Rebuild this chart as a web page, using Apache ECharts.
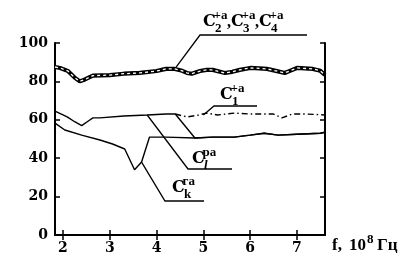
<!DOCTYPE html>
<html><head><meta charset="utf-8">
<script src="https://cdn.jsdelivr.net/npm/echarts@6/dist/echarts.min.js"></script>
<style>html,body{margin:0;padding:0;background:#fff}#c{width:416px;height:258px}</style>
</head><body><div id="c"></div>
<script>
const xTicks = [2, 3, 4, 5, 6, 7];
const yTicks = [0, 20, 40, 60, 80, 100];

// C2+a, C3+a, C4+a (thick hollow curve)
const c234X = [1.83, 1.94, 2.1, 2.25, 2.36, 2.47, 2.64, 3.0, 3.3, 3.64, 4.0, 4.2, 4.39, 4.55, 4.65, 4.75, 4.93, 5.07, 5.2, 5.46, 5.62, 5.78, 6.0, 6.2, 6.36, 6.55, 6.74, 6.85, 7.0, 7.34, 7.5, 7.6];
const c234Y = [87.5, 87, 85.5, 82, 80, 81, 83, 83.3, 84, 84.4, 85.4, 86.5, 86.5, 85.5, 84.4, 84, 85.4, 86, 86, 84.4, 85, 86, 87, 86.8, 86.5, 85.5, 84.4, 85.5, 87, 86.5, 85.5, 83.3];

// C1+a (dash-dot part)
const c1X = [4.4, 4.65, 4.9, 5.07, 5.3, 5.66, 6.0, 6.3, 6.5, 6.68, 6.9, 7.2, 7.6];
const c1Y = [63, 61.5, 62.5, 63.5, 62.5, 63.5, 63, 63, 63, 61, 63, 63, 62.5];

// Cl pa
const clX = [1.83, 2.09, 2.25, 2.4, 2.55, 2.64, 2.79, 3.3, 3.8, 4.2, 4.4, 4.82, 5.2, 5.66, 6.0, 6.3, 6.6, 7.0, 7.5, 7.6];
const clY = [64.5, 61.5, 59, 57, 59.5, 61, 61, 62, 62.5, 63, 63, 50.5, 51, 51, 52, 53, 52, 52.5, 53, 53.5];

// Ck ra
const ckX = [1.83, 2.04, 2.4, 2.79, 3.06, 3.32, 3.53, 3.68, 3.85, 4.2, 4.82, 5.2, 5.66, 6.0, 6.3, 6.6, 7.0, 7.5, 7.6];
const ckY = [58.3, 54.7, 52, 49.5, 47.4, 44.8, 34, 38, 51, 51, 50.5, 51, 51, 52, 53, 52, 52.5, 53, 53.5];

const zip = (xs, ys) => xs.map((x, i) => [x, ys[i]]);
const SERIF = '"Liberation Serif", "Times New Roman", serif';
const DSERIF = '"DejaVu Serif", serif';
const tickFont = { fontFamily: DSERIF, fontWeight: 'bold', fontSize: 14, color: '#000' };

const chart = echarts.init(document.getElementById('c'));
const axisCommon = {
  type: 'value', min: 1.83, max: 7.6,
  axisLine: { show: true, lineStyle: { color: '#000', width: 2 } },
  axisTick: { show: true, inside: true, length: 5, customValues: xTicks, lineStyle: { color: '#000', width: 1.5 } },
  splitLine: { show: false }
};
const line = (data, extra) => Object.assign({ type: 'line', data, symbol: 'none', silent: true, animation: false,
  lineStyle: { color: '#000', width: 1.4 } }, extra || {});

chart.setOption({
  animation: false,
  backgroundColor: '#fff',
  grid: { left: 55, right: 91, top: 43, bottom: 23 },
  xAxis: [
    Object.assign({}, axisCommon, { position: 'bottom',
      axisLabel: Object.assign({ customValues: xTicks, margin: 6 }, tickFont) }),
    Object.assign({}, axisCommon, { position: 'top', axisLabel: { show: false } })
  ],
  yAxis: [
    { type: 'value', min: 0, max: 100, interval: 20, position: 'left',
      axisLine: { show: true, lineStyle: { color: '#000', width: 2 } },
      axisTick: { show: true, inside: true, length: 5, lineStyle: { color: '#000', width: 1.5 } },
      axisLabel: Object.assign({ margin: 7, formatter: v => yTicks.includes(v) ? String(v) : '' }, tickFont),
      splitLine: { show: false } },
    { type: 'value', min: 0, max: 100, interval: 20, position: 'right',
      axisLine: { show: true, lineStyle: { color: '#000', width: 2 } },
      axisTick: { show: true, inside: true, length: 5, lineStyle: { color: '#000', width: 1.5 } },
      axisLabel: { show: false }, splitLine: { show: false } }
  ],
  series: [
    line(zip(ckX, ckY)),
    line(zip(clX, clY)),
    line(zip(c1X, c1Y), { lineStyle: { color: '#000', width: 1.4, type: [6, 3, 1.5, 3] } }),
    line(zip(c234X, c234Y), { lineStyle: { color: '#000', width: 4.2 } }),
    line(zip(c234X, c234Y), { lineStyle: { color: '#fff', width: 1.3, type: [3, 3] } })
  ]
});

// annotations
function px(p) { return chart.convertToPixel({ xAxisIndex: 0, yAxisIndex: 0 }, p); }
const els = [];
// place text by its alphabetic baseline
function txt(s, x, base, size, fam, italic) {
  els.push({ type: 'text', silent: true, style: { text: s, x, y: base - 0.84 * size, fill: '#000',
    font: (italic ? 'italic ' : '') + 'bold ' + size + 'px ' + (fam || SERIF), textVerticalAlign: 'top' } });
}
function seg(pts) {
  els.push({ type: 'polyline', silent: true, shape: { points: pts }, style: { stroke: '#000', lineWidth: 1.3, fill: null } });
}
function lab(x, base, sup, sub, subItalic) {
  txt('C', x, base, 16, DSERIF);
  txt(sup, x + 10.5, base - 7, 13);
  txt(sub, x + 12, base + 6, 13, SERIF, subItalic);
}
// C2,C3,C4 label
let a = px([4.39, 86.5]);
seg([a, [200, 35], [307, 35]]);
lab(203, 27, '+а', '2'); txt(',', 227, 28, 16);
lab(231, 27, '+а', '3'); txt(',', 255, 28, 16);
lab(259, 27, '+а', '4');
// C1
a = px([5.0, 62.5]);
seg([a, [214, 106], [257, 106]]);
lab(220, 100, '+а', '1');
// Cl
a = px([3.8, 62.5]);
seg([a, [188, 169], [232, 169]]);
lab(192, 164, 'ра', 'l', true);
// Ck
a = px([3.68, 38]);
seg([a, [165, 201], [204, 201]]);
lab(172, 193, 'га', 'k');
// axis title
txt('f,', 332, 251, 17);
txt('10', 349, 251, 17);
txt('8', 367, 244, 13);
txt('Гц', 377, 251, 17);
chart.setOption({ graphic: { elements: els } });
</script></body></html>
